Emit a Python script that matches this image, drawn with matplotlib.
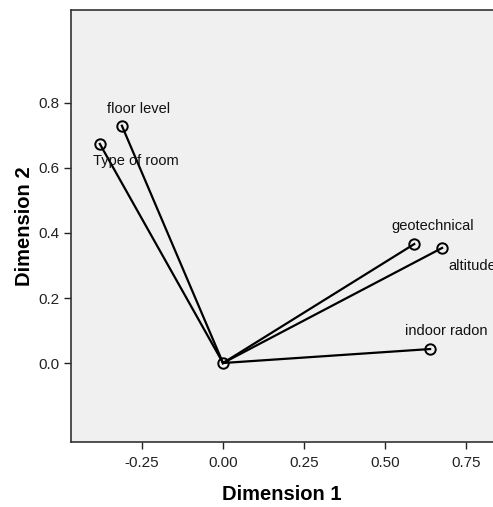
import matplotlib
matplotlib.use("Agg")
import matplotlib.pyplot as plt

plt.rcParams['font.family'] = ['Liberation Sans', 'DejaVu Sans']

# component loadings
variables = ['floor level', 'Type of room', 'geotechnical', 'altitude', 'indoor radon']
dim1 = [-0.312, -0.380, 0.590, 0.676, 0.639]
dim2 = [0.730, 0.674, 0.366, 0.354, 0.043]

# label placement relative to the point (dx, dy, ha, va)
label_pos = [(0.052, 0.031, 'center', 'bottom'),
             (0.111, -0.031, 'center', 'top'),
             (0.056, 0.034, 'center', 'bottom'),
             (0.019, -0.034, 'left', 'top'),
             (0.049, 0.034, 'center', 'bottom')]

fig = plt.figure(figsize=(4.93, 5.07), dpi=100)
ax = fig.add_axes([71/493, 65/507, 1 - 71/493, 432/507])
ax.set_facecolor('#f0f0f0')

for x, y in zip(dim1, dim2):
    ax.plot([0, x], [0, y], color='black', lw=1.6, zorder=2)
ax.plot(dim1, dim2, 'o', mfc='none', mec='black', ms=7.5, mew=1.4, zorder=3)
ax.plot([0], [0], 'o', mfc='none', mec='black', ms=7.5, mew=1.4, zorder=3)

for name, x, y, (dx, dy, ha, va) in zip(variables, dim1, dim2, label_pos):
    ax.text(x + dx, y + dy, name, ha=ha, va=va, fontsize=10.5, color='#111111')

ax.set_xlim(-0.469, 0.833)
ax.set_ylim(-0.243, 1.086)
ax.set_xticks([-0.25, 0.0, 0.25, 0.5, 0.75])
ax.set_xticklabels(['-0.25', '0.00', '0.25', '0.50', '0.75'])
ax.set_yticks([0.0, 0.2, 0.4, 0.6, 0.8])
ax.set_yticklabels(['0.0', '0.2', '0.4', '0.6', '0.8'])
ax.tick_params(direction='out', length=5, width=1, labelsize=11, colors='#222222')
ax.tick_params(axis='x', pad=5)
ax.spines['right'].set_visible(False)
for s in ['left', 'bottom', 'top']:
    ax.spines[s].set_color('#333333')
    ax.spines[s].set_linewidth(1.2)

ax.set_xlabel('Dimension 1', fontsize=14.5, fontweight='bold', labelpad=11)
ax.set_ylabel('Dimension 2', fontsize=14.5, fontweight='bold', labelpad=3)

fig.savefig('out.png', dpi=100)
